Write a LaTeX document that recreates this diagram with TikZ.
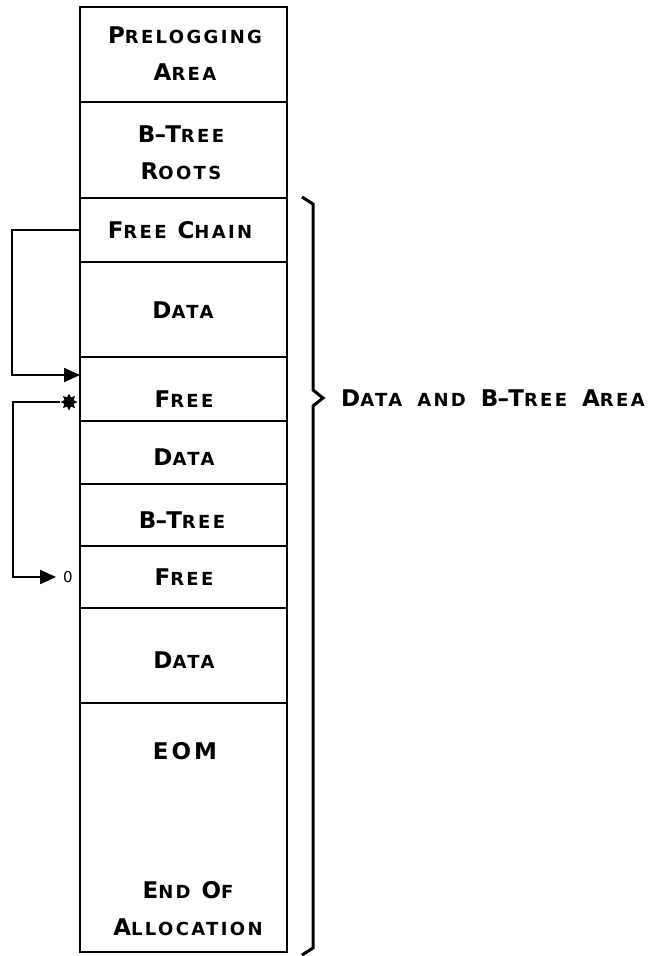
\documentclass[tikz,border=0pt]{standalone}
\usepackage{fontspec}
\setmainfont{DejaVu Sans}[LetterSpace=13]
\usetikzlibrary{shapes,arrows.meta,positioning}

% small caps by hand: first letters large, the rest small
\newcommand\sck[2]{{\fontsize{23}{27}\selectfont #1}{\fontsize{18}{21}\selectfont #2}}
\newcommand\bdash{B\kern-0.8pt–\kern-0.8pt T}

\tikzset{
  cell/.style={draw, line width=2.8pt, minimum width=207pt, inner sep=0pt, outer sep=0pt},
  txt/.style={font=\bfseries\fontsize{23}{37}\selectfont, align=center, inner sep=0pt},
  link/.style={line width=2pt},
  headed/.style={-{Triangle[length=16pt,width=14pt]}},
  brace/.style={line width=3pt, line join=miter},
}

\begin{document}
\begin{tikzpicture}[x=1pt, y=-1pt]
  \useasboundingbox (0,0) rectangle (661,956);

  \node[cell, minimum height=95pt] (pre) at (183.5,54.5) {};
  \node[cell, minimum height=96pt, below=0pt of pre] (roots) {};
  \node[cell, minimum height=64pt, below=0pt of roots] (chain) {};
  \node[cell, minimum height=95pt, below=0pt of chain] (data1) {};
  \node[cell, minimum height=64pt, below=0pt of data1] (free1) {};
  \node[cell, minimum height=63pt, below=0pt of free1] (data2) {};
  \node[cell, minimum height=62pt, below=0pt of data2] (btree) {};
  \node[cell, minimum height=62pt, below=0pt of btree] (free2) {};
  \node[cell, minimum height=95pt, below=0pt of free2] (data3) {};
  \node[cell, minimum height=249pt, below=0pt of data3] (eom) {};

  \node[txt] (tpre) at (185,53.5) {\sck{P}{RELOGGING}\\\sck{A}{REA}};
  \node[txt] (troots) at (181,152.5) {\sck{\bdash}{REE}\\\sck{R}{OOTS}};
  \node[txt] (tchain) at (180,230) {\sck{F}{REE} \sck{C}{HAIN}};
  \node[txt] (tdata1) at (183,310) {\sck{D}{ATA}};
  \node[txt] (tfree1) at (184,399) {\sck{F}{REE}};
  \node[txt] (tdata2) at (184,457) {\sck{D}{ATA}};
  \node[txt] (tbtree) at (182,520) {\sck{\bdash}{REE}};
  \node[txt] (tfree2) at (184,577) {\sck{F}{REE}};
  \node[txt] (tdata3) at (184,660) {\sck{D}{ATA}};
  \node[txt] (teom) at (185,751) {EOM};
  \node[txt] (tend) at (188,908.5) {\sck{E}{ND} \sck{O}{F}\\\sck{A}{LLOCATION}};

  \node[star, star points=8, star point ratio=1.7, fill, minimum size=17pt, inner sep=0pt] (burst) at (69,402) {};
  \node[font=\fontsize{15}{17}\selectfont, inner sep=0pt] (zero) at (68,577) {0};

  \coordinate (in1) at ([yshift=14pt]free1.west);
  \draw[link, headed] (chain.west) -- ++(-68,0) |- (in1);
  \draw[link, headed] (burst.west) -- ++(-47.5,0) |- ([xshift=-7pt]zero.west);

  \draw[brace] (302,197) -- (313,204) -- (313,390) -- (323,398) coordinate (bracetip)
    -- (313,406) -- (313,948) -- (302,955);
  \node[txt, anchor=west] (area) at ([xshift=18pt]bracetip)
    {\sck{D}{ATA}\hspace{15pt}\sck{}{AND}\hspace{15pt}\sck{\bdash}{REE}\hspace{15pt}\sck{A}{REA}};

\end{tikzpicture}
\end{document}
